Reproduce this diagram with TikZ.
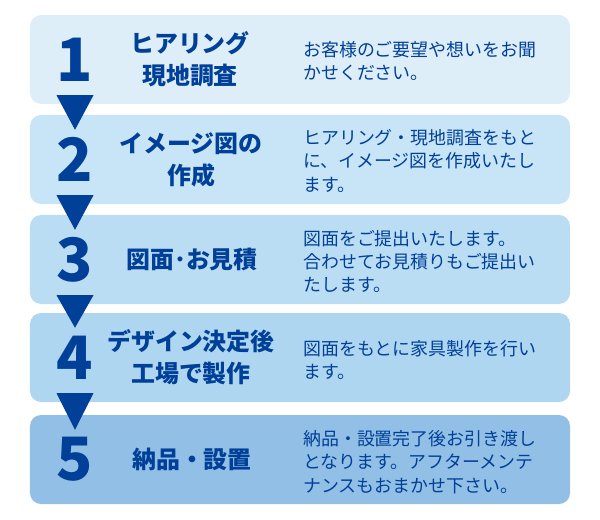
\documentclass[tikz,border=0pt]{standalone}
\usepackage{fontspec}
\setmainfont{Noto Sans CJK JP}
\usepackage{tikz}
\usetikzlibrary{positioning,calc}

\definecolor{flowblue}{RGB}{0,64,152}
\definecolor{boxa}{RGB}{221,238,249}
\definecolor{boxb}{RGB}{200,229,247}
\definecolor{boxc}{RGB}{187,221,244}
\definecolor{boxd}{RGB}{175,214,241}
\definecolor{boxe}{RGB}{146,191,229}

\tikzset{
  stepbox/.style={rounded corners=11bp,minimum width=540bp,minimum height=89bp,inner sep=0pt},
  stepnum/.style={text=flowblue,inner sep=0pt,font=\bfseries\fontsize{60}{60}\selectfont},
  steptitle/.style={text=flowblue,inner sep=0pt,align=center,font=\bfseries\fontsize{24}{32}\selectfont},
  stepdesc/.style={text=flowblue,inner sep=0pt,align=left,anchor=west,font=\fontsize{18}{23.5}\selectfont},
  downtri/.style={fill=flowblue}
}

\begin{document}
\begin{tikzpicture}[x=1bp,y=-1bp]
		\useasboundingbox (0,0) rectangle (600,520);
		% the five step boxes
		\node[stepbox,fill=boxa] (box1) at (300,59.5) {};
		\node[stepbox,fill=boxb] (box2) at (300,159.5) {};
		\node[stepbox,fill=boxc] (box3) at (300,259.5) {};
		\node[stepbox,fill=boxd] (box4) at (300,357.5) {};
		\node[stepbox,fill=boxe] (box5) at (300,459.5) {};
		%% the numbers
		\node[stepnum] (num1) at (75,59.5) {1};
		\node[stepnum] (num2) at (75,159.5) {2};
		\node[stepnum] (num3) at (75,259.5) {3};
		\node[stepnum] (num4) at (75,357.5) {4};
		\node[stepnum] (num5) at (75,459.5) {5};
		%% the titles
		\node[steptitle] (title1) at (190,59.5) {ヒアリング\\現地調査};
		\node[steptitle] (title2) at (191,159.5) {イメージ図の\\作成};
		\node[steptitle] (title3) at (192,259.5) {図面･お見積};
		\node[steptitle] (title4) at (191,357.5) {デザイン決定後\\工場で製作};
		\node[steptitle] (title5) at (192,459.5) {納品・設置};
		%% the descriptions
		\node[stepdesc] (desc1) at (303,61) {お客様のご要望や想いをお聞\\かせください。};
		\node[stepdesc] (desc2) at (303,161) {ヒアリング・現地調査をもと\\に、イメージ図を作成いたし\\ます。};
		\node[stepdesc] (desc3) at (303,261.5) {図面をご提出いたします。\\合わせてお見積りもご提出い\\たします。};
		\node[stepdesc] (desc4) at (303,360) {図面をもとに家具製作を行い\\ます。};
		\node[stepdesc] (desc5) at (303,462) {納品・設置完了後お引き渡し\\となります。アフターメンテ\\ナンスもおまかせ下さい。};
		%% the triangles between the boxes
		\fill[downtri] ($(num1 |- box1.south)+(-18.5,-9)$) -- ++(37,0) -- ($(num2 |- box2.north)+(0,15)$) -- cycle;
		\fill[downtri] ($(num2 |- box2.south)+(-18.5,-9)$) -- ++(37,0) -- ($(num3 |- box3.north)+(0,15)$) -- cycle;
		\fill[downtri] ($(num3 |- box3.south)+(-18.5,-9)$) -- ++(37,0) -- ($(num4 |- box4.north)+(0,15)$) -- cycle;
		\fill[downtri] ($(num4 |- box4.south)+(-18.5,-9)$) -- ++(37,0) -- ($(num5 |- box5.north)+(0,15)$) -- cycle;
		\end{tikzpicture}
\end{document}
